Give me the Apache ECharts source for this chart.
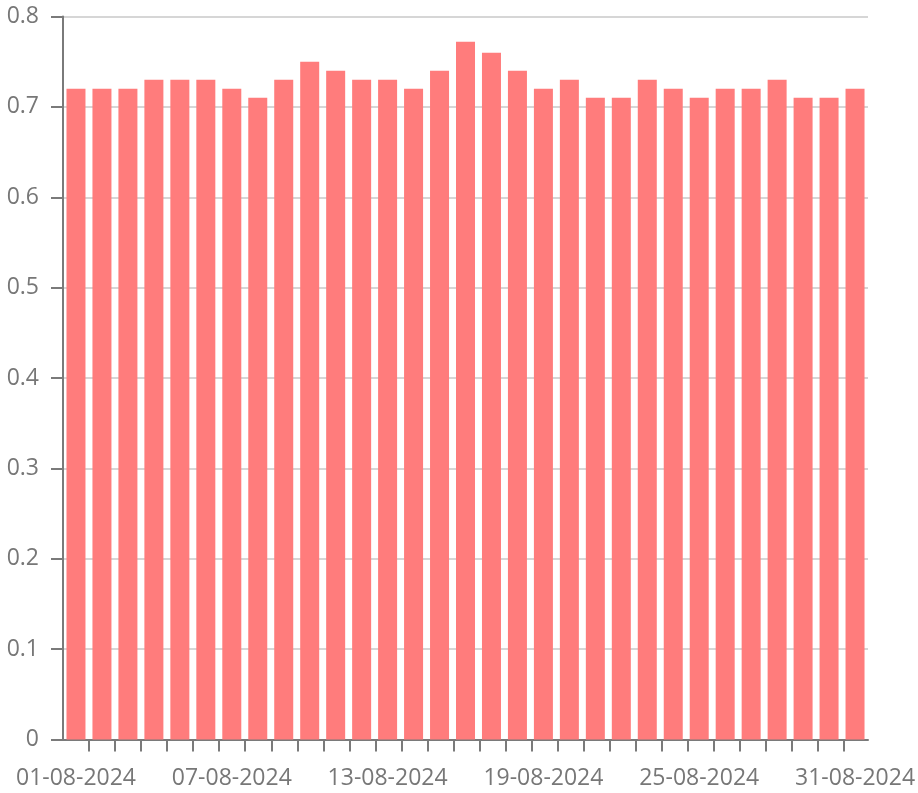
<!DOCTYPE html>
<html>
<head>
<meta charset="utf-8">
<script src="https://cdn.jsdelivr.net/npm/echarts@6/dist/echarts.min.js"></script>
<style>
html,body{margin:0;padding:0;background:#fff;}
#chart{width:918px;height:793px;}
</style>
</head>
<body>
<div id="chart"></div>
<script>
const categories = [
  "01-08-2024","02-08-2024","03-08-2024","04-08-2024","05-08-2024","06-08-2024","07-08-2024",
  "08-08-2024","09-08-2024","10-08-2024","11-08-2024","12-08-2024","13-08-2024","14-08-2024",
  "15-08-2024","16-08-2024","17-08-2024","18-08-2024","19-08-2024","20-08-2024","21-08-2024",
  "22-08-2024","23-08-2024","24-08-2024","25-08-2024","26-08-2024","27-08-2024","28-08-2024",
  "29-08-2024","30-08-2024","31-08-2024"
];
const values = [
  0.72,0.72,0.72,0.73,0.73,0.73,0.72,0.71,0.73,0.75,0.74,0.73,0.73,0.72,0.74,
  0.772,0.76,0.74,0.72,0.73,0.71,0.71,0.73,0.72,0.71,0.72,0.72,0.73,0.71,0.71,0.72
];
const yMin = 0, yMax = 0.8, yStep = 0.1;

const FONT = "'Open Sans', 'Noto Sans', sans-serif";
const TEXT = '#777777';
const AXIS = '#7a7a7a';

const boundaries = categories.map((c, i) => i).concat([categories.length]);

const gridPos = { left: 63, right: 48, top: 16.5, bottom: 53.5, containLabel: false };

const chart = echarts.init(document.getElementById('chart'), null, { renderer: 'canvas' });
chart.setOption({
  animation: false,
  backgroundColor: '#ffffff',
  grid: [Object.assign({}, gridPos), Object.assign({}, gridPos)],
  xAxis: [{
    type: 'category',
    gridIndex: 0,
    data: categories,
    boundaryGap: true,
    axisLine: { show: true, lineStyle: { color: AXIS, width: 2 } },
    axisTick: { show: false },
    axisLabel: {
      interval: 5,
      color: TEXT,
      fontFamily: FONT,
      fontSize: 23,
      margin: 27
    },
    splitLine: { show: false }
  }, {
    type: 'category',
    gridIndex: 1,
    data: boundaries,
    boundaryGap: false,
    axisLine: { show: false },
    axisTick: {
      show: true,
      length: 12,
      interval: function (idx) { return idx > 0 && idx < categories.length; },
      lineStyle: { color: AXIS, width: 2 }
    },
    axisLabel: { show: false },
    splitLine: { show: false }
  }],
  yAxis: [{
    type: 'value',
    gridIndex: 0,
    min: yMin,
    max: yMax,
    interval: yStep,
    axisLine: { show: true, lineStyle: { color: AXIS, width: 2 } },
    axisTick: { show: true, length: 12, lineStyle: { color: AXIS, width: 2 } },
    axisLabel: {
      color: TEXT,
      fontFamily: FONT,
      fontSize: 23,
      margin: 24,
      formatter: function (v) { return String(Math.round(v * 10) / 10); }
    },
    splitLine: { show: true, lineStyle: { color: '#d6d6d6', width: 2 } }
  }, {
    type: 'value',
    gridIndex: 1,
    min: yMin,
    max: yMax,
    show: false
  }],
  series: [{
    type: 'bar',
    xAxisIndex: 0,
    yAxisIndex: 0,
    data: values,
    barWidth: 19,
    itemStyle: { color: '#ff7c7c' }
  }]
});
</script>
</body>
</html>
